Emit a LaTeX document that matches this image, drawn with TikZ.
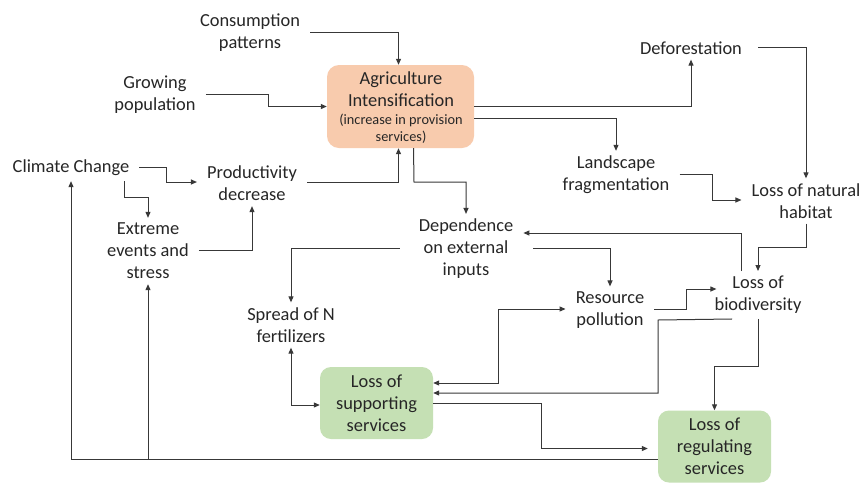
\documentclass[tikz,border=0pt]{standalone}
\usepackage{fontspec}
\setmainfont{Carlito}
\usetikzlibrary{arrows.meta}
\definecolor{peach}{HTML}{F8CBAD}
\definecolor{lgreen}{HTML}{C5E0B4}
\definecolor{txt}{HTML}{262626}
\definecolor{ln}{HTML}{383838}
\begin{document}
\begin{tikzpicture}[x=1pt,y=-1pt,
  lbl/.style={align=center, text=txt, font=\fontsize{18.4}{22}\selectfont, inner xsep=10pt, inner ysep=5pt},
  agribox/.style={fill=peach, rounded corners=12pt, minimum width=147pt, minimum height=83pt, inner sep=0pt},
  greenbox/.style={lbl, fill=lgreen, rounded corners=11pt, minimum width=113pt, minimum height=72pt, inner sep=0pt},
  conn/.style={draw=ln, line width=1pt, -{Triangle[length=6pt,width=5pt]}},
  conntwo/.style={draw=ln, line width=1pt, {Triangle[length=6pt,width=5pt]}-{Triangle[length=6pt,width=5pt]}}]
\useasboundingbox (0,0) rectangle (862,483);
\fill[white] (0,0) rectangle (862,483);

\node[lbl] (cons) at (250,32.5) {Consumption\\patterns};
\node[lbl] (grow) at (155,94.5) {Growing\\population};
\node[agribox] (agri) at (400.5,106.5) {};
\node[lbl, inner sep=0pt] (agriA) at (401,89.5) {Agriculture\\Intensification};
\node[lbl, inner sep=0pt, font=\fontsize{14.3}{17}\selectfont] (agriB) at (401,129) {(increase in provision\\services)};
\node[lbl] (clim) at (71,168) {Climate Change};
\node[lbl] (prod) at (252,183.5) {Productivity\\decrease};
\node[lbl] (ext) at (148,251) {Extreme\\events and\\stress};
\node[lbl] (dep) at (466,249) {Dependence\\on external\\inputs};
\node[lbl] (def) at (691,48) {Deforestation};
\node[lbl] (land) at (616,175) {Landscape\\fragmentation};
\node[lbl] (lnh) at (806,201) {Loss of natural\\habitat};
\node[lbl] (lob) at (758,295) {Loss of\\biodiversity};
\node[lbl] (res) at (610,310) {Resource\\pollution};
\node[lbl] (spr) at (291,325) {Spread of N\\fertilizers};
\node[greenbox] (sup) at (376.5,403) {Loss of\\supporting\\services};
\node[greenbox] (reg) at (714.5,446.5) {Loss of\\regulating\\services};

\draw[conn] ([yshift=0.5pt]cons.east) -| ([xshift=-2pt]agri.north);
\draw[conn] ([yshift=0.5pt]grow.east) -- (268,94) |- (agri.west);
\draw[conn] ([yshift=1pt]clim.east) -- (166,167) |- ([yshift=1.5pt]prod.west);
\draw[conn] ([xshift=53pt]clim.south) -- (124,197) -| (ext.north);
\draw[conn] ([yshift=1pt]ext.east) -| (prod.south);
\draw[conn] ([yshift=1.5pt]prod.east) -| ([xshift=-2pt]agri.south);
\draw[conn] ([xshift=13pt]agri.south) -- (414,182) -| (dep.north);
\draw[conn] (agri.east) -| (def.south);
\draw[conn] ([yshift=-12pt]agri.east) -| (land.north);
\draw[conn] ([xshift=6pt,yshift=1pt]def.east) -| (lnh.north);
\draw[conn] ([yshift=1pt]land.east) -- (712,174) |- ([yshift=1pt]lnh.west);
\draw[conn] (lnh.south) -- (806,247) -| (lob.north);
\draw[conn] ([xshift=-17pt]lob.north) |- ([yshift=16pt]dep.east);
\draw[conn] ([xshift=10pt,yshift=1pt]dep.east) -| (res.north);
\draw[conn] ([yshift=1pt]res.east) -- (686,309) |- ([xshift=12pt,yshift=6pt]lob.west);
\draw[conn] ([xshift=-26pt]lob.south) -- (658,320) |- ([yshift=10pt]sup.east);
\draw[conntwo] ([yshift=20pt]sup.east) -- (498,383) |- ([yshift=1pt]res.west);
\draw[conn] (lob.south) -- (758,366) -| (reg.north);
\draw[conn, shorten >=10pt] (sup.east) -- (541,403) |- ([yshift=-2pt]reg.west);
\draw[conn] ([xshift=-9pt,yshift=1pt]dep.west) -| (spr.north);
\draw[conntwo] (spr.south) |- ([yshift=-2pt]sup.west);
\coordinate (br) at (148,459.5);
\draw[conn] ([yshift=-13pt]reg.west) -| (clim.south);
\draw[conn] (br) -- (ext.south);
\end{tikzpicture}
\end{document}
